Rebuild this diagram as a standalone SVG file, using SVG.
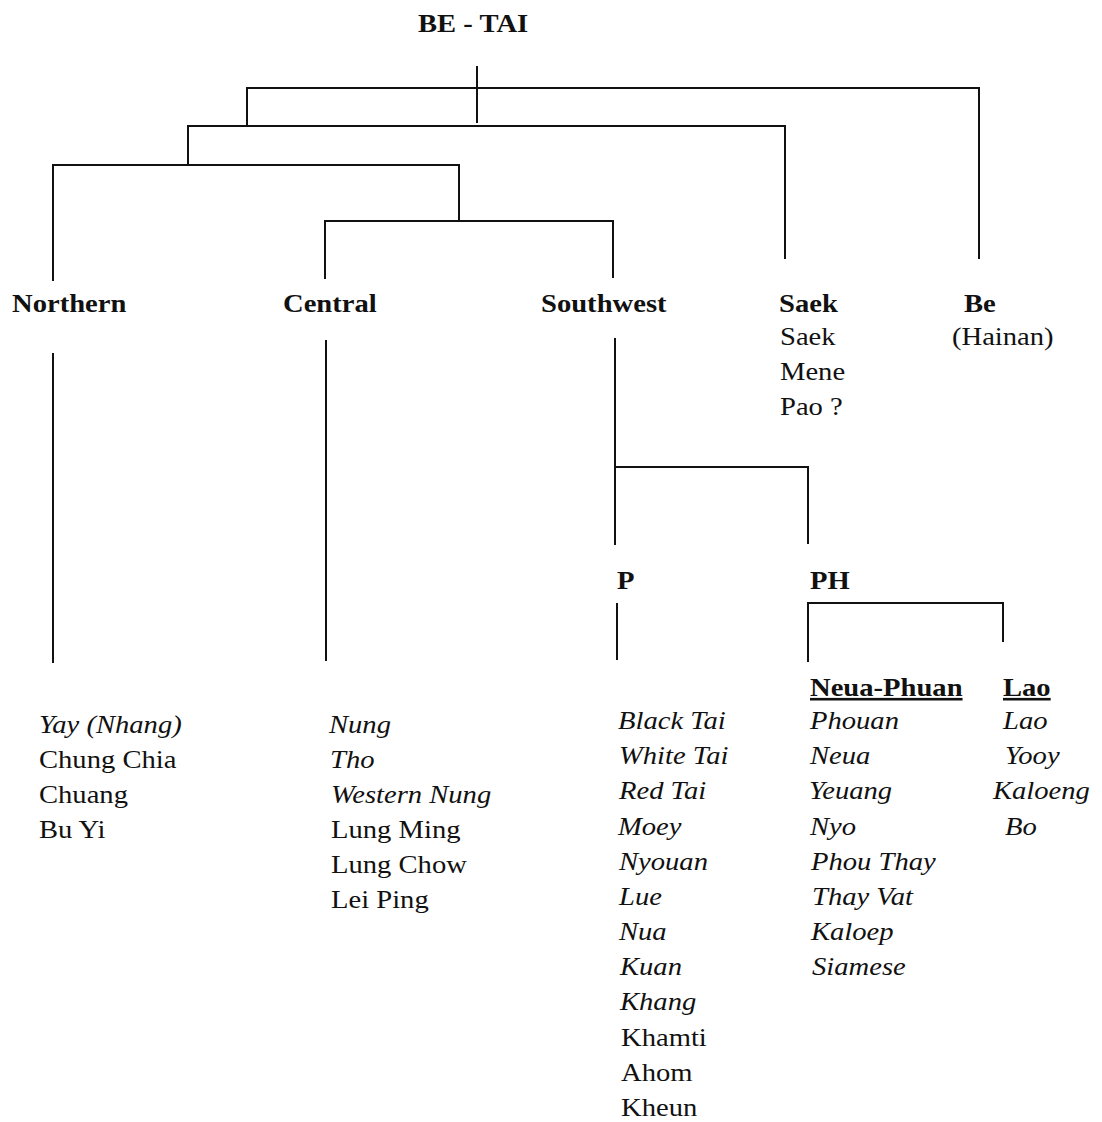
<svg xmlns="http://www.w3.org/2000/svg" width="1102" height="1122" viewBox="0 0 1102 1122">
<style>
text{font-family:"Liberation Serif","Times New Roman",serif;font-size:26px;fill:#111}
.b{font-weight:bold}
.i{font-style:italic}
.u{text-decoration:underline}
.ln{fill:none;stroke:#111;stroke-width:2;stroke-linecap:butt;stroke-linejoin:miter}
</style>
<rect width="1102" height="1122" fill="#fff"/>
<g id="connectors" class="ln">
<path d="M477,66V123"/>
<path d="M247,126V88H979V259"/>
<path d="M188,165V126H785V259"/>
<path d="M53,281V165H459V221"/>
<path d="M325,279V221H613V278"/>
<path d="M53,353V663"/>
<path d="M326,340V661"/>
<path d="M615,338V545"/>
<path d="M615,467H808V544"/>
<path d="M617,603V660"/>
<path d="M808,662V603H1003V642"/>
</g>
<g id="root"><text class="b" transform="translate(418,32) scale(1.1,1)">BE - TAI</text></g>
<g id="northern">
<text class="b" transform="translate(12,312) scale(1.1,1)">Northern</text>
<text class="i" transform="translate(39,733) scale(1.1,1)">Yay (Nhang)</text>
<text transform="translate(39,768) scale(1.1,1)">Chung Chia</text>
<text transform="translate(39,803) scale(1.1,1)">Chuang</text>
<text transform="translate(39,838) scale(1.1,1)">Bu Yi</text>
</g>
<g id="central">
<text class="b" transform="translate(283,312) scale(1.1,1)">Central</text>
<text class="i" transform="translate(329,733) scale(1.1,1)">Nung</text>
<text class="i" transform="translate(330,768) scale(1.1,1)">Tho</text>
<text class="i" transform="translate(331,803) scale(1.1,1)">Western Nung</text>
<text transform="translate(331,838) scale(1.1,1)">Lung Ming</text>
<text transform="translate(331,873) scale(1.1,1)">Lung Chow</text>
<text transform="translate(331,908) scale(1.1,1)">Lei Ping</text>
</g>
<g id="southwest">
<text class="b" transform="translate(541,312) scale(1.1,1)">Southwest</text>
</g>
<g id="saek">
<text class="b" transform="translate(779,312) scale(1.1,1)">Saek</text>
<text transform="translate(780,345) scale(1.1,1)">Saek</text>
<text transform="translate(780,380) scale(1.1,1)">Mene</text>
<text transform="translate(780,415) scale(1.1,1)">Pao ?</text>
</g>
<g id="be">
<text class="b" transform="translate(964,312) scale(1.1,1)">Be</text>
<text transform="translate(952,345) scale(1.1,1)">(Hainan)</text>
</g>
<g id="p">
<text class="b" transform="translate(617,589) scale(1.1,1)">P</text>
<text class="i" transform="translate(618,729) scale(1.1,1)">Black Tai</text>
<text class="i" transform="translate(619,764) scale(1.1,1)">White Tai</text>
<text class="i" transform="translate(619,799) scale(1.1,1)">Red Tai</text>
<text class="i" transform="translate(618,835) scale(1.1,1)">Moey</text>
<text class="i" transform="translate(619,870) scale(1.1,1)">Nyouan</text>
<text class="i" transform="translate(619,905) scale(1.1,1)">Lue</text>
<text class="i" transform="translate(619,940) scale(1.1,1)">Nua</text>
<text class="i" transform="translate(620,975) scale(1.1,1)">Kuan</text>
<text class="i" transform="translate(620,1010) scale(1.1,1)">Khang</text>
<text transform="translate(621,1046) scale(1.1,1)">Khamti</text>
<text transform="translate(621,1081) scale(1.1,1)">Ahom</text>
<text transform="translate(621,1116) scale(1.1,1)">Kheun</text>
</g>
<g id="ph">
<text class="b" transform="translate(810,589) scale(1.1,1)">PH</text>
</g>
<g id="neua-phuan">
<text class="b u" transform="translate(810,696) scale(1.1,1)">Neua-Phuan</text>
<text class="i" transform="translate(810,729) scale(1.1,1)">Phouan</text>
<text class="i" transform="translate(810,764) scale(1.1,1)">Neua</text>
<text class="i" transform="translate(809,799) scale(1.1,1)">Yeuang</text>
<text class="i" transform="translate(810,835) scale(1.1,1)">Nyo</text>
<text class="i" transform="translate(811,870) scale(1.1,1)">Phou Thay</text>
<text class="i" transform="translate(812,905) scale(1.1,1)">Thay Vat</text>
<text class="i" transform="translate(811,940) scale(1.1,1)">Kaloep</text>
<text class="i" transform="translate(812,975) scale(1.1,1)">Siamese</text>
</g>
<g id="lao">
<text class="b u" transform="translate(1003,696) scale(1.1,1)">Lao</text>
<text class="i" transform="translate(1003,729) scale(1.1,1)">Lao</text>
<text class="i" transform="translate(1005,764) scale(1.1,1)">Yooy</text>
<text class="i" transform="translate(993,799) scale(1.1,1)">Kaloeng</text>
<text class="i" transform="translate(1005,835) scale(1.1,1)">Bo</text>
</g>
</svg>
